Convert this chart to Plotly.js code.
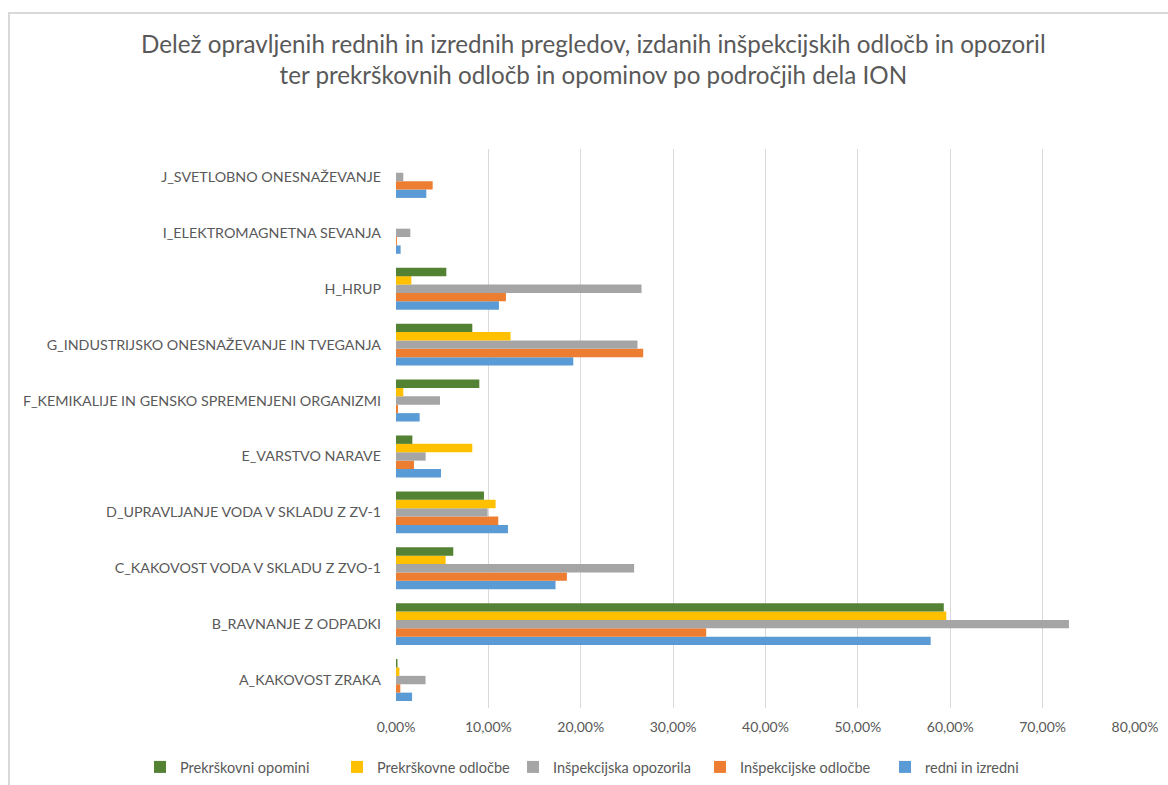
<!DOCTYPE html>
<html>
<head>
<meta charset="utf-8">
<script src="https://cdn.plot.ly/plotly-3.0.1.min.js"></script>
<style>
html,body{margin:0;padding:0;background:#fff;}
#chart{width:1168px;height:785px;}
#frame{position:absolute;left:8px;top:12px;right:-10px;bottom:-10px;border-left:2px solid #d9d9d9;border-top:2px solid #d9d9d9;pointer-events:none;}
</style>
</head>
<body>
<div id="chart"></div>
<div id="frame"></div>
<script>
const categories = [
  "A_KAKOVOST ZRAKA",
  "B_RAVNANJE Z ODPADKI",
  "C_KAKOVOST VODA V SKLADU Z ZVO-1",
  "D_UPRAVLJANJE VODA V SKLADU Z ZV-1",
  "E_VARSTVO NARAVE",
  "F_KEMIKALIJE IN GENSKO SPREMENJENI ORGANIZMI",
  "G_INDUSTRIJSKO ONESNAŽEVANJE IN TVEGANJA",
  "H_HRUP",
  "I_ELEKTROMAGNETNA SEVANJA",
  "J_SVETLOBNO ONESNAŽEVANJE"
];
// values in percent
const redniInIzredni       = [1.74, 57.88, 17.27, 12.12, 4.87, 2.56, 19.19, 11.14, 0.50, 3.28];
const inspekcijskeOdlocbe  = [0.47, 33.58, 18.50, 11.07, 1.95, 0.22, 26.76, 11.90, 0.10, 3.97];
const inspekcijskaOpozorila= [3.20, 72.85, 25.78, 9.92, 3.21, 4.76, 26.14, 26.58, 1.55, 0.79];
const prekrskovneOdlocbe   = [0.37, 59.57, 5.37, 10.78, 8.26, 0.79, 12.40, 1.66, 0.00, 0.00];
const prekrskovniOpomini   = [0.16, 59.30, 6.20, 9.52, 1.77, 9.02, 8.26, 5.45, 0.00, 0.00];

const seriesNames = ["redni in izredni","Inšpekcijske odločbe","Inšpekcijska opozorila","Prekrškovne odločbe","Prekrškovni opomini"];
const seriesValues = [redniInIzredni, inspekcijskeOdlocbe, inspekcijskaOpozorila, prekrskovneOdlocbe, prekrskovniOpomini];
const seriesColors = ["#5B9BD5","#ED7D31","#A5A5A5","#FFC000","#548235"];
const legendIds = ["legend5","legend4","legend3","legend2","legend"];
// legend text start positions (px) in container
const legendTextX = [925, 740, 553, 377, 180];

const traces = seriesNames.map((n,i)=>({
  type:'bar', orientation:'h', name:n, y:categories, x:seriesValues[i],
  marker:{color:seriesColors[i], line:{width:0}}, legend:legendIds[i]
}));

const font = "Lato, 'Open Sans', sans-serif";
const layout = {
  width:1168, height:785,
  paper_bgcolor:'#fff', plot_bgcolor:'#fff',
  margin:{l:396, r:33, t:149, b:77, autoexpand:false},
  separators:',.',
  font:{family:font, color:'#595959', size:14},
  title:{text:'Delež opravljenih rednih in izrednih pregledov, izdanih inšpekcijskih odločb in opozoril<br>ter prekrškovnih odločb in opominov po področjih dela ION',
         font:{family:font, size:24.2, color:'#595959'}, x:0.508, xanchor:'center', y:0.933, yanchor:'top'},
  barmode:'group', bargap:0.25, bargroupgap:0,
  xaxis:{range:[0,80], dtick:10, tick0:0, tickformat:'.2f', ticksuffix:'%', showgrid:true, gridcolor:'#d9d9d9', gridwidth:1,
         zeroline:false, showline:false, ticks:'', ticklabelstandoff:9, tickfont:{size:14, color:'#595959'}, fixedrange:true, automargin:false},
  yaxis:{type:'category', showgrid:false, zeroline:false, showline:false, ticks:'', ticklabelstandoff:14,
         tickfont:{size:14.3, color:'#595959'}, fixedrange:true, automargin:false},
  showlegend:true
};
legendIds.forEach((id,i)=>{
  layout[id] = {orientation:'h', xref:'container', yref:'container', x:(legendTextX[i]-40)/1168, xanchor:'left',
                y:1-767/785, yanchor:'middle', font:{size:14.5, color:'#595959'}, itemwidth:30, bgcolor:'rgba(0,0,0,0)'};
});
Plotly.newPlot('chart', traces, layout, {displayModeBar:false, staticPlot:true});
</script>
</body>
</html>
